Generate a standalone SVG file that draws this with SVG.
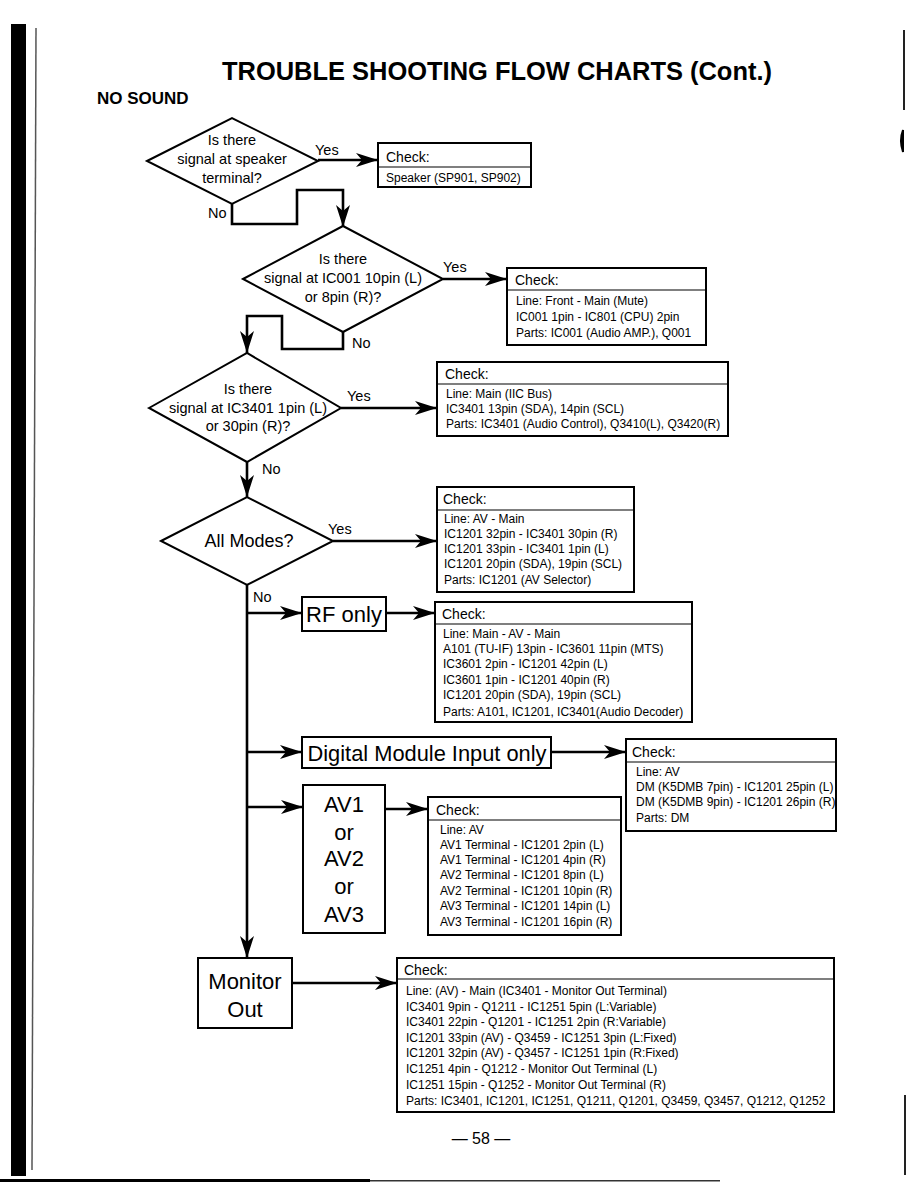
<svg xmlns="http://www.w3.org/2000/svg" width="918" height="1188" viewBox="0 0 918 1188">
<style>
text{font-family:"Liberation Sans",Arial,sans-serif;fill:#000}
.t{font-size:12px}
.ck{font-size:14px}
.q{font-size:14.5px;text-anchor:middle}
.lb{font-size:14.5px}
.big{font-size:22px;text-anchor:middle}
.box{fill:#fff;stroke:#000;stroke-width:2}
.dia{fill:#fff;stroke:#000;stroke-width:2}
.div{stroke:#000;stroke-width:1.2}
.c{fill:none;stroke:#000;stroke-width:2.6;marker-end:url(#ah)}
.cn{fill:none;stroke:#000;stroke-width:2.6}
</style>
<defs>
<marker id="ah" markerUnits="userSpaceOnUse" markerWidth="24" markerHeight="16" refX="22" refY="8" orient="auto">
<path d="M0,1 L22,8 L0,15 L6,8 z" fill="#000"/>
</marker>
</defs>
<rect width="918" height="1188" fill="#fff"/>
<g id="scan-edge">
<rect x="11" y="24" width="15" height="1152" fill="#000"/>
<line x1="36" y1="28" x2="32" y2="1170" stroke="#555" stroke-width="1.5"/>
<rect x="903" y="30" width="2" height="80" fill="#222"/>
<path d="M903,130 Q899,140 903,152 Z" fill="#000" stroke="#000" stroke-width="2"/>
<rect x="904" y="1095" width="2" height="80" fill="#222"/>
<rect x="0" y="1179" width="370" height="3" fill="#000"/>
<rect x="370" y="1180" width="350" height="1.5" fill="#333"/>
</g>
<g id="title">
<text x="222" y="80" font-size="25" font-weight="bold" textLength="550" lengthAdjust="spacingAndGlyphs">TROUBLE SHOOTING FLOW CHARTS (Cont.)</text>
<text x="97" y="104" font-size="17" font-weight="bold">NO SOUND</text>
</g>
<g id="connectors">
<line class="c" x1="318" y1="160" x2="378" y2="160"/>
<polyline class="c" points="232,204 232,224 297,224 297,190 343,190 343,227"/>
<line class="c" x1="443" y1="279" x2="507" y2="279"/>
<polyline class="c" points="343,332 343,349 282,349 282,316 247,316 247,353"/>
<line class="c" x1="341" y1="408" x2="437" y2="408"/>
<line class="c" x1="247" y1="462" x2="247" y2="497"/>
<line class="c" x1="333" y1="541" x2="437" y2="541"/>
<line class="c" x1="247" y1="585" x2="247" y2="958"/>
<line class="c" x1="247" y1="613" x2="302" y2="613"/>
<line class="c" x1="386" y1="613" x2="435" y2="613"/>
<line class="c" x1="247" y1="752" x2="302" y2="752"/>
<line class="c" x1="551" y1="752" x2="626" y2="752"/>
<line class="c" x1="247" y1="807" x2="303" y2="807"/>
<line class="c" x1="385" y1="809" x2="428" y2="809"/>
<line class="c" x1="292" y1="983" x2="397" y2="983"/>
<text class="lb" x="315" y="155">Yes</text>
<text class="lb" x="208" y="218">No</text>
<text class="lb" x="443" y="272">Yes</text>
<text class="lb" x="352" y="348">No</text>
<text class="lb" x="347" y="401">Yes</text>
<text class="lb" x="262" y="474">No</text>
<text class="lb" x="328" y="534">Yes</text>
<text class="lb" x="253" y="602">No</text>
</g>
<g id="d1">
<polygon class="dia" points="147,161 232,118 318,161 232,204"/>
<text class="q" x="232" y="145">Is there</text>
<text class="q" x="232" y="164">signal at speaker</text>
<text class="q" x="232" y="183">terminal?</text>
</g>
<g id="check1">
<rect class="box" x="378" y="143" width="153" height="44"/>
<line class="div" x1="378" y1="167" x2="531" y2="167"/>
<text class="ck" x="386" y="162">Check:</text>
<text class="t" x="386" y="182">Speaker (SP901, SP902)</text>
</g>
<g id="d2">
<polygon class="dia" points="243,279 343,226 443,279 343,332"/>
<text class="q" x="343" y="264">Is there</text>
<text class="q" x="343" y="283">signal at IC001 10pin (L)</text>
<text class="q" x="343" y="302">or 8pin (R)?</text>
</g>
<g id="check2">
<rect class="box" x="507" y="268" width="199" height="77"/>
<line class="div" x1="507" y1="290" x2="706" y2="290"/>
<text class="ck" x="515" y="285">Check:</text>
<text class="t" x="516" y="305">Line: Front - Main (Mute)</text>
<text class="t" x="516" y="321">IC001 1pin - IC801 (CPU) 2pin</text>
<text class="t" x="516" y="337">Parts: IC001 (Audio AMP.), Q001</text>
</g>
<g id="d3">
<polygon class="dia" points="149,408 247,353 341,408 247,462"/>
<text class="q" x="248" y="394">Is there</text>
<text class="q" x="248" y="413">signal at IC3401 1pin (L)</text>
<text class="q" x="248" y="431">or 30pin (R)?</text>
</g>
<g id="check3">
<rect class="box" x="437" y="362" width="291" height="74"/>
<line class="div" x1="437" y1="384" x2="728" y2="384"/>
<text class="ck" x="445" y="379">Check:</text>
<text class="t" x="446" y="398">Line: Main (IIC Bus)</text>
<text class="t" x="446" y="413">IC3401 13pin (SDA), 14pin (SCL)</text>
<text class="t" x="446" y="428">Parts: IC3401 (Audio Control), Q3410(L), Q3420(R)</text>
</g>
<g id="d4">
<polygon class="dia" points="161,541 247,497 333,541 247,585"/>
<text x="249" y="547" font-size="18" text-anchor="middle">All Modes?</text>
</g>
<g id="check4">
<rect class="box" x="437" y="487" width="197" height="105"/>
<line class="div" x1="437" y1="510" x2="634" y2="510"/>
<text class="ck" x="443" y="504">Check:</text>
<text class="t" x="444" y="523">Line: AV - Main</text>
<text class="t" x="444" y="538">IC1201 32pin - IC3401 30pin (R)</text>
<text class="t" x="444" y="553">IC1201 33pin - IC3401 1pin (L)</text>
<text class="t" x="444" y="568">IC1201 20pin (SDA), 19pin (SCL)</text>
<text class="t" x="444" y="584">Parts: IC1201 (AV Selector)</text>
</g>
<g id="rf">
<rect class="box" x="302" y="597" width="84" height="34"/>
<text class="big" x="344" y="622">RF only</text>
</g>
<g id="check5">
<rect class="box" x="435" y="602" width="257" height="120"/>
<line class="div" x1="435" y1="624" x2="692" y2="624"/>
<text class="ck" x="442" y="619">Check:</text>
<text class="t" x="443" y="638">Line: Main - AV - Main</text>
<text class="t" x="443" y="653">A101 (TU-IF) 13pin - IC3601 11pin (MTS)</text>
<text class="t" x="443" y="668">IC3601 2pin - IC1201 42pin (L)</text>
<text class="t" x="443" y="684">IC3601 1pin - IC1201 40pin (R)</text>
<text class="t" x="443" y="699">IC1201 20pin (SDA), 19pin (SCL)</text>
<text class="t" x="443" y="716">Parts: A101, IC1201, IC3401(Audio Decoder)</text>
</g>
<g id="digital">
<rect class="box" x="302" y="737" width="249" height="31"/>
<text class="big" x="427" y="761" textLength="239" lengthAdjust="spacingAndGlyphs">Digital Module Input only</text>
</g>
<g id="check6">
<rect class="box" x="626" y="739" width="210" height="92"/>
<line class="div" x1="626" y1="762" x2="836" y2="762"/>
<text class="ck" x="632" y="757">Check:</text>
<text class="t" x="636" y="776">Line: AV</text>
<text class="t" x="636" y="791">DM (K5DMB 7pin) - IC1201 25pin (L)</text>
<text class="t" x="636" y="806">DM (K5DMB 9pin) - IC1201 26pin (R)</text>
<text class="t" x="636" y="822">Parts: DM</text>
</g>
<g id="av">
<rect class="box" x="303" y="785" width="82" height="148"/>
<text class="big" x="344" y="812">AV1</text>
<text class="big" x="344" y="840">or</text>
<text class="big" x="344" y="866">AV2</text>
<text class="big" x="344" y="894">or</text>
<text class="big" x="344" y="922">AV3</text>
</g>
<g id="check7">
<rect class="box" x="428" y="797" width="193" height="138"/>
<line class="div" x1="428" y1="820" x2="621" y2="820"/>
<text class="ck" x="436" y="815">Check:</text>
<text class="t" x="440" y="834">Line: AV</text>
<text class="t" x="440" y="849">AV1 Terminal - IC1201 2pin (L)</text>
<text class="t" x="440" y="864">AV1 Terminal - IC1201 4pin (R)</text>
<text class="t" x="440" y="879">AV2 Terminal - IC1201 8pin (L)</text>
<text class="t" x="440" y="895">AV2 Terminal - IC1201 10pin (R)</text>
<text class="t" x="440" y="910">AV3 Terminal - IC1201 14pin (L)</text>
<text class="t" x="440" y="926">AV3 Terminal - IC1201 16pin (R)</text>
</g>
<g id="monitor">
<rect class="box" x="198" y="958" width="94" height="70"/>
<text class="big" x="245" y="989">Monitor</text>
<text class="big" x="245" y="1017">Out</text>
</g>
<g id="check8">
<rect class="box" x="397" y="958" width="437" height="154"/>
<line class="div" x1="397" y1="979" x2="834" y2="979"/>
<text class="ck" x="404" y="975">Check:</text>
<text class="t" x="406" y="995">Line: (AV) - Main (IC3401 - Monitor Out Terminal)</text>
<text class="t" x="406" y="1011">IC3401 9pin - Q1211 - IC1251 5pin (L:Variable)</text>
<text class="t" x="406" y="1026">IC3401 22pin - Q1201 - IC1251 2pin (R:Variable)</text>
<text class="t" x="406" y="1042">IC1201 33pin (AV) - Q3459 - IC1251 3pin (L:Fixed)</text>
<text class="t" x="406" y="1057">IC1201 32pin (AV) - Q3457 - IC1251 1pin (R:Fixed)</text>
<text class="t" x="406" y="1073">IC1251 4pin - Q1212 - Monitor Out Terminal (L)</text>
<text class="t" x="406" y="1089">IC1251 15pin - Q1252 - Monitor Out Terminal (R)</text>
<text class="t" x="406" y="1105">Parts: IC3401, IC1201, IC1251, Q1211, Q1201, Q3459, Q3457, Q1212, Q1252</text>
</g>
<text x="481" y="1144" font-size="16" text-anchor="middle">— 58 —</text>
</svg>
